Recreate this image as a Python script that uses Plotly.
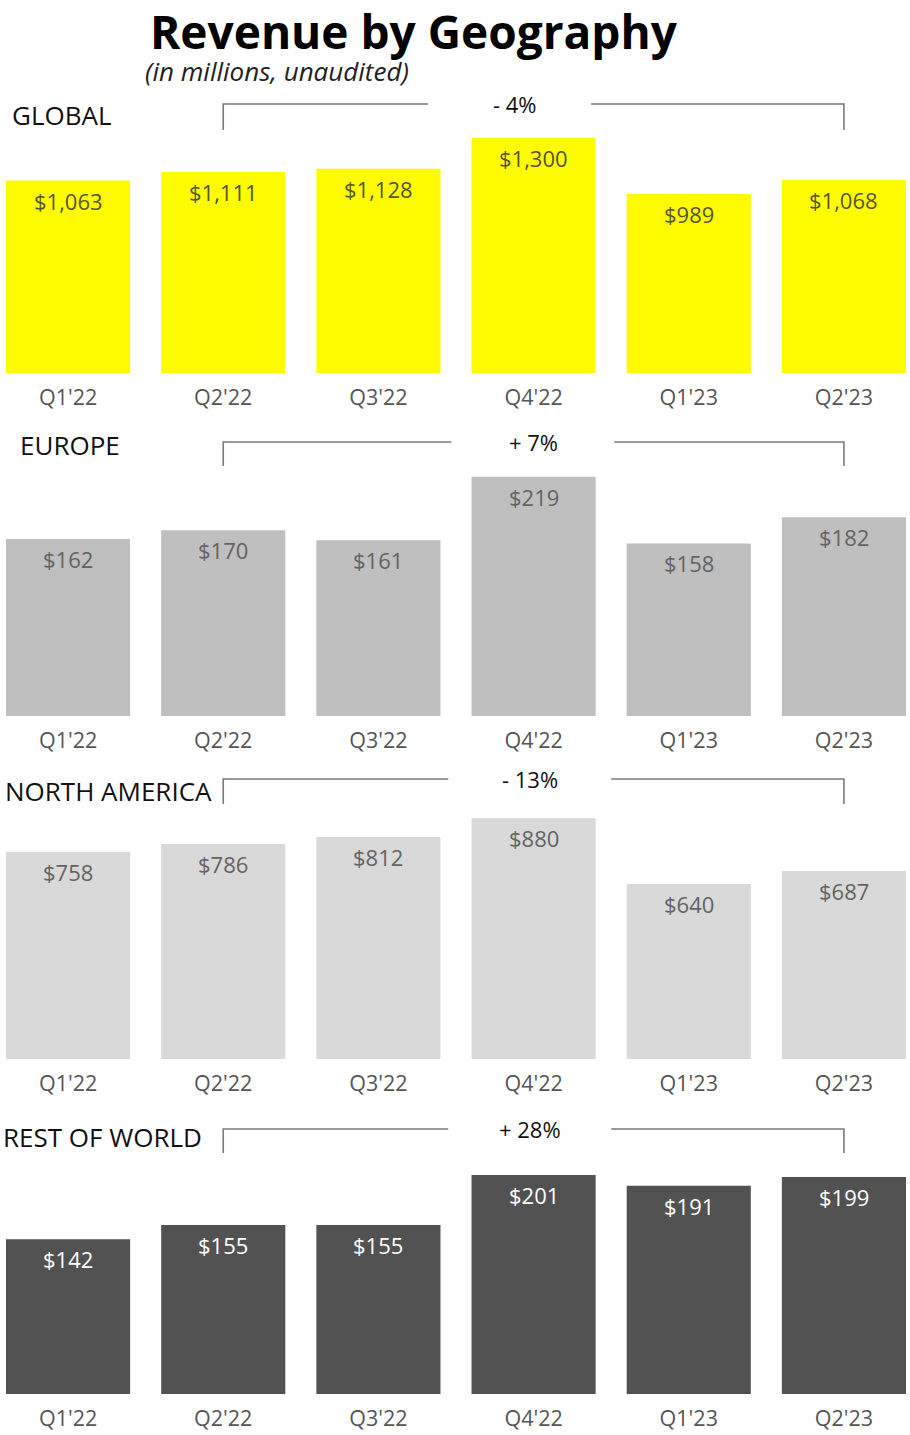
import plotly.graph_objects as go

W, H = 910, 1435

quarters = ["Q1'22", "Q2'22", "Q3'22", "Q4'22", "Q1'23", "Q2'23"]
global_rev = [1063, 1111, 1128, 1300, 989, 1068]
europe_rev = [162, 170, 161, 219, 158, 182]
na_rev = [758, 786, 812, 880, 640, 687]
row_rev = [142, 155, 155, 201, 191, 199]

panel_names = ["GLOBAL", "EUROPE", "NORTH AMERICA", "REST OF WORLD"]
panel_changes = ["- 4%", "+ 7%", "- 13%", "+ 28%"]

FONT = "Open Sans"

# layout styling per panel (pixel geometry)
panels = [
    dict(vals=global_rev, color="#FFFC00", txt="#55552e", base=373, top=130, scale=0.181,
         title_x=12, title_y=115, br_y=104, br_bot=130, gap_l=2.32, gap_r=3.37, pct_x=2.88),
    dict(vals=europe_rev, color="#BFBFBF", txt="#636363", base=716, top=470, scale=1.092,
         title_x=20, title_y=445, br_y=442, br_bot=466, gap_l=2.47, gap_r=3.52, pct_x=3.0),
    dict(vals=na_rev, color="#D9D9D9", txt="#636363", base=1059, top=810, scale=0.2735,
         title_x=5, title_y=791, br_y=779, br_bot=804, gap_l=2.45, gap_r=3.5, pct_x=2.98),
    dict(vals=row_rev, color="#525252", txt="#FFFFFF", base=1394, top=1160, scale=1.09,
         title_x=3, title_y=1137, br_y=1129, br_bot=1153, gap_l=2.45, gap_r=3.5, pct_x=2.98),
]


def py(p):
    return 1 - p / H


fig = go.Figure()
annotations = []
shapes = []
x_dom = [6 / W, 906 / W]

for i, p in enumerate(panels):
    n = "" if i == 0 else str(i + 1)
    xa, ya = "x" + n, "y" + n
    fig.add_trace(go.Bar(x=list(range(6)), y=p["vals"], marker=dict(color=p["color"], line=dict(width=0)),
                         xaxis=xa, yaxis=ya, showlegend=False, hoverinfo="skip"))
    fig.update_layout(**{
        "xaxis" + n: dict(domain=x_dom, range=[-0.4, 5.4], tickvals=list(range(6)), ticktext=quarters,
                          showgrid=False, zeroline=False, showline=False, ticks="",
                          tickfont=dict(family=FONT, size=21.5, color="#555555"),
                          ticklabelstandoff=9, anchor=ya, fixedrange=True),
        "yaxis" + n: dict(domain=[py(p["base"]), py(p["top"])],
                          range=[0, (p["base"] - p["top"]) / p["scale"]],
                          visible=False, anchor=xa, fixedrange=True),
    })
    # value labels
    for k, v in enumerate(p["vals"]):
        annotations.append(dict(x=k, y=v, xref=xa, yref=ya, text=f"${v:,}", showarrow=False,
                                yanchor="top", yshift=-3,
                                font=dict(family=FONT, size=22, color=p["txt"])))
    # panel title
    annotations.append(dict(x=p["title_x"] / W, y=py(p["title_y"]), xref="paper", yref="paper",
                            text=panel_names[i], showarrow=False, xanchor="left", yanchor="middle",
                            xshift=-2,
                            font=dict(family=FONT, size=26, color="#111111")))
    # change bracket
    annotations.append(dict(x=p["pct_x"], y=py(p["br_y"]), xref=xa, yref="paper", text=panel_changes[i],
                            showarrow=False, xanchor="center", yanchor="middle",
                            font=dict(family=FONT, size=22, color="#111111")))
    line = dict(color="#7a7a7a", width=1.6)
    shapes.append(dict(type="path", xref=xa, yref="paper",
                       path=f"M 1,{py(p['br_bot'])} L 1,{py(p['br_y'])} L {p['gap_l']},{py(p['br_y'])}",
                       line=line))
    shapes.append(dict(type="path", xref=xa, yref="paper",
                       path=f"M {p['gap_r']},{py(p['br_y'])} L 5,{py(p['br_y'])} L 5,{py(p['br_bot'])}",
                       line=line))

annotations.append(dict(x=414 / W, y=1, xref="paper", yref="paper", text="<b>Revenue by Geography</b>",
                        showarrow=False, xanchor="center", yanchor="top", yshift=2,
                        font=dict(family=FONT, size=46, color="#000000")))
annotations.append(dict(x=143 / W, y=py(71), xref="paper", yref="paper", text="<i>(in millions, unaudited)</i>",
                        showarrow=False, xanchor="left", yanchor="middle",
                        font=dict(family=FONT, size=26, color="#222222")))

fig.update_layout(width=W, height=H, margin=dict(l=0, r=0, t=0, b=0),
                  paper_bgcolor="white", plot_bgcolor="white", bargap=0.2,
                  annotations=annotations, shapes=shapes)

fig.write_html("out.html", config={"displayModeBar": False},
               post_script="document.body.style.margin='0';document.body.style.padding='0';")
